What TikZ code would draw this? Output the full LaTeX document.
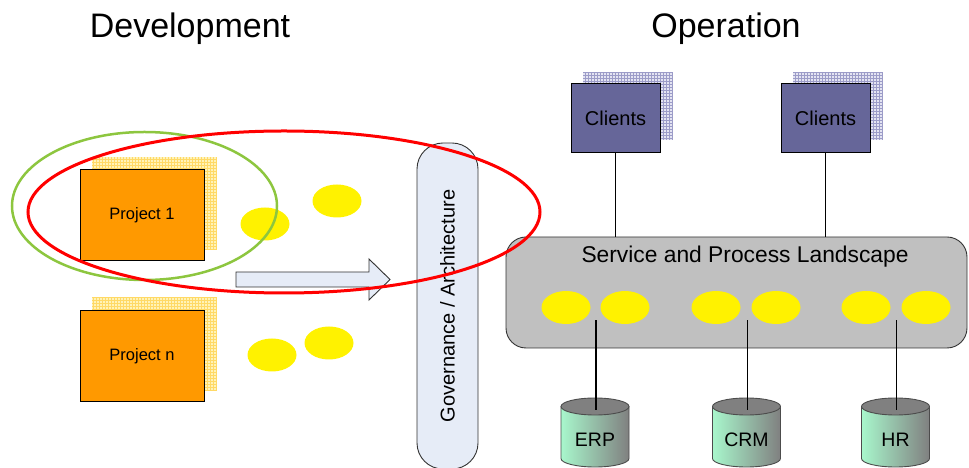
\documentclass[tikz,border=0pt]{standalone}
\usepackage{fontspec}
\setmainfont{Liberation Sans}
\usepackage{xcolor}
\usepackage{tikz}
\usetikzlibrary{positioning,shapes.geometric}

\definecolor{projorange}{HTML}{FF9900}
\definecolor{projgrid}{HTML}{FFF3B8}
\definecolor{projgridline}{HTML}{FFD966}
\definecolor{clientblue}{HTML}{666699}
\definecolor{clientgrid}{HTML}{E4E4F2}
\definecolor{clientgridline}{HTML}{9C9CC8}
\definecolor{govblue}{HTML}{E6ECF7}
\definecolor{landgray}{HTML}{C0C0C0}
\definecolor{dbgreen}{HTML}{A8F7CC}
\definecolor{dbgray}{HTML}{808080}
\definecolor{devgreen}{HTML}{8DC63F}

\begin{document}
\begin{tikzpicture}[x=1pt,y=1pt]
\tikzstyle{every node}+=[inner sep=0pt]
\tikzstyle{title}=[font=\fontsize{34}{38}\selectfont]
\tikzstyle{project}=[draw=black, line width=1pt, fill=projorange, minimum width=124pt, minimum height=91pt, font=\fontsize{16.5}{18}\selectfont]
\tikzstyle{client}=[draw=black, line width=1pt, fill=clientblue, minimum width=89pt, minimum height=69pt, font=\fontsize{20}{22}\selectfont]
\tikzstyle{service}=[fill=yellow, ellipse, minimum width=49pt, minimum height=33pt]
\tikzstyle{dbtext}=[font=\fontsize{19.5}{22}\selectfont]
\tikzstyle{link}=[black, line width=1.2pt]
\useasboundingbox (0,0) rectangle (969,468);

\node[title, anchor=base] (dev) at (190,430) {Development};
\node[title, anchor=base] (op) at (726,430) {Operation};

\fill[projgrid] (92,219) rectangle (217,311);
\draw[projgridline, step=3pt, line width=0.4pt] (92,219) grid (217,311);
\fill[projgrid] (92,78) rectangle (217,171);
\draw[projgridline, step=3pt, line width=0.4pt] (92,78) grid (217,171);
\node[project] (p1) at (142,253) {Project 1};
\node[project] (pn) at (142,112) {Project n};

\node[service] (s1) at (265,244) {};
\node[service] (s2) at (337,267) {};
\node[service] (s3) at (272,113) {};
\node[service] (s4) at (329,125) {};

\draw[black!80, line width=0.9pt, fill=govblue] (236,181) -- (369,181) -- (369,168) -- (390,188.5) -- (369,209) -- (369,196) -- (236,196) -- cycle;

\node[draw=black!80, line width=0.9pt, fill=govblue, rounded corners=26pt, rotate=90, minimum width=326pt, minimum height=61pt, font=\fontsize{20}{22}\selectfont] (gov) at (447.5,162) {Governance / Architecture};

\node[draw=black!80, line width=0.9pt, fill=landgray, rounded corners=20pt, minimum width=461pt, minimum height=111pt] (land) at (736.5,175.5) {};
\node[font=\fontsize{22.8}{25}\selectfont] (landtitle) at (745,211) {Service and Process Landscape};
\foreach \nm/\sx in {a/566, b/625, c/716, d/776, e/866, f/926}
  \node[service] (l\nm) at (\sx,160.5) {};

\fill[clientgrid] (583,328) rectangle (673,396);
\draw[clientgridline, step=3pt, line width=0.4pt] (583,328) grid (673,396);
\fill[clientgrid] (793,328) rectangle (883,396);
\draw[clientgridline, step=3pt, line width=0.4pt] (793,328) grid (883,396);
\node[client] (c1) at (615.5,349.5) {Clients};
\node[client] (c2) at (825.5,349.5) {Clients};
\draw[link] (c1) -- (c1 |- land.north);
\draw[link] (c2) -- (c2 |- land.north);

\foreach \nm/\cx in {erp/595, crm/746.5, hr/895.5} {
  \shade[left color=dbgreen, right color=dbgray, draw=black!70, line width=0.9pt] (\cx-34,61.5) -- (\cx-34,9.5) arc[start angle=180, end angle=360, x radius=34, y radius=8.5] -- (\cx+34,61.5) -- cycle;
  \filldraw[fill=dbgray, draw=black!70, line width=0.9pt] (\cx,61.5) ellipse [x radius=34, y radius=8.5];
  \coordinate (\nm-top) at (\cx+1,58);
  \coordinate (\nm-in) at (\cx+1,148);
}
\node[dbtext] (erp) at (595,28) {ERP};
\node[dbtext] (crm) at (746.5,28) {CRM};
\node[dbtext] (hr) at (895.5,28) {HR};
\draw[link] (erp-top) -- (erp-in);
\draw[link] (crm-top) -- (crm-in);
\draw[link] (hr-top) -- (hr-in);

\draw[devgreen, line width=2.5pt] (144.5,262) ellipse [x radius=132.5, y radius=74];
\draw[red, line width=3pt] (284,256) ellipse [x radius=256, y radius=81];
\end{tikzpicture}
\end{document}
